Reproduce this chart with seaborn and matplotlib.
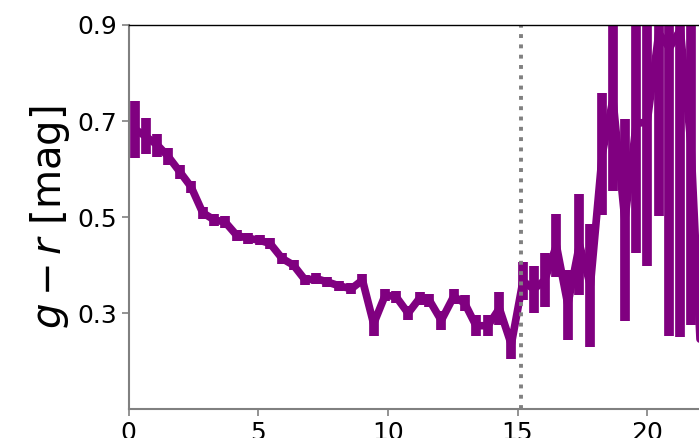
import numpy as np
import pandas as pd
import seaborn as sns
import matplotlib
matplotlib.use("Agg")
import matplotlib.pyplot as plt

# radius bins (x) and g-r colour with its error
radius = [0.25, 0.66, 1.11, 1.53, 1.98, 2.41, 2.86, 3.31, 3.72, 4.17,
          4.60, 5.05, 5.46, 5.92, 6.36, 6.81, 7.24, 7.67, 8.12, 8.59,
          9.02, 9.45, 9.90, 10.32, 10.78, 11.22, 11.60, 12.06, 12.54, 12.96,
          13.40, 13.86, 14.30, 14.76, 15.21, 15.63, 16.05, 16.50, 16.94, 17.39,
          17.81, 18.27, 18.68, 19.14, 19.58, 20.00, 20.45, 20.86, 21.28, 21.69,
          22.13]
color_gr = [0.683, 0.668, 0.650, 0.626, 0.594, 0.563, 0.509, 0.494, 0.490, 0.462,
            0.456, 0.452, 0.445, 0.414, 0.400, 0.369, 0.372, 0.365, 0.357, 0.351,
            0.369, 0.278, 0.338, 0.334, 0.300, 0.331, 0.327, 0.285, 0.335, 0.321,
            0.274, 0.274, 0.310, 0.235, 0.367, 0.350, 0.369, 0.441, 0.318, 0.443,
            0.358, 0.632, 0.745, 0.494, 0.695, 0.698, 0.883, 0.852, 0.890, 0.650,
            0.140]
color_err = [0.059, 0.0375, 0.024, 0.018, 0.015, 0.013, 0.012, 0.012, 0.012, 0.011,
             0.011, 0.011, 0.011, 0.011, 0.011, 0.011, 0.011, 0.011, 0.011, 0.012,
             0.012, 0.025, 0.013, 0.013, 0.014, 0.014, 0.014, 0.020, 0.016, 0.017,
             0.022, 0.022, 0.035, 0.030, 0.040, 0.049, 0.057, 0.065, 0.073, 0.105,
             0.128, 0.127, 0.190, 0.210, 0.270, 0.300, 0.380, 0.600, 0.640, 0.375,
             0.100]

r_cut = 15.13
purple = "#800080"

df = pd.DataFrame({"r": radius, "gr": color_gr, "err": color_err})

sns.set_style("ticks")
plt.rcParams["font.family"] = ["DejaVu Sans"]
plt.rcParams["text.color"] = "black"
plt.rcParams["axes.labelcolor"] = "black"

fig = plt.figure(figsize=(6.99, 4.38), dpi=100)
ax = fig.add_axes([0.184, 0.0655, 0.816, 0.8775])

sns.lineplot(data=df, x="r", y="gr", color=purple, linewidth=5.5, ax=ax,
             sort=False, estimator=None)
ax.vlines(df["r"], df["gr"] - df["err"], df["gr"] + df["err"],
          color=purple, linewidth=7)
ax.axvline(r_cut, color="grey", linestyle=":", linewidth=2.8)

ax.set_xlim(0, 22.0)
ax.set_ylim(0.1, 0.9)
ax.set_xticks([0, 5, 10, 15, 20])
ax.set_yticks([0.3, 0.5, 0.7, 0.9])
ax.set_yticklabels(["0.3", "0.5", "0.7", "0.9"])
ax.tick_params(labelsize=18, color="grey", labelcolor="black", length=5, width=1.2)
ax.set_xlabel("")
ax.set_ylabel(r"$g-r$ [mag]", fontsize=29, color="black")

for side in ["left", "bottom"]:
    ax.spines[side].set_color("grey")
    ax.spines[side].set_linewidth(1.5)
ax.spines["top"].set_visible(True)
ax.spines["top"].set_color("black")
ax.spines["top"].set_linewidth(1.0)
ax.spines["right"].set_visible(False)

fig.savefig("out.png", dpi=100)
